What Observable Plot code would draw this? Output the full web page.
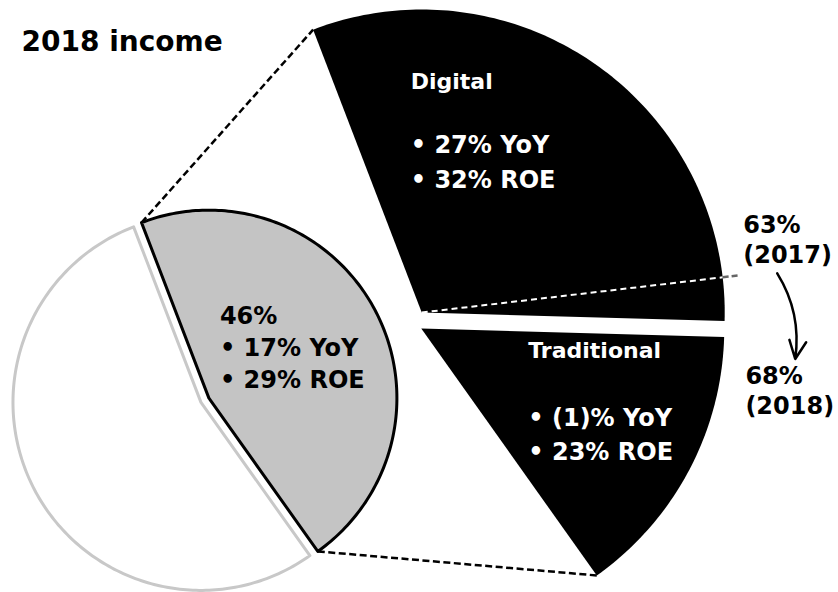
<!DOCTYPE html>
<html>
<head>
<meta charset="utf-8">
<script src="https://cdn.jsdelivr.net/npm/d3@7"></script>
<script src="https://cdn.jsdelivr.net/npm/@observablehq/plot@0.6"></script>
<style>
  html, body { margin: 0; padding: 0; background: #fff; }
  #chart { width: 838px; height: 592px; }
</style>
</head>
<body>
<div id="chart"></div>
<script>
// ---------------- data ----------------
const titleText = "2018 income";
const pieCategories = ["Segment", "Rest of group"];
const pieShares = [46, 54];
const segmentYoY = "17%";
const segmentROE = "29%";
const splitCategories = ["Digital", "Traditional"];
const splitShares = [68, 32];
const splitYoY = ["27%", "(1)%"];
const splitROE = ["32%", "23%"];
const digitalYears = ["2017", "2018"];
const digitalShares = [63, 68];

// ---------------- layout ----------------
const W = 838, H = 592;
const pieCenter = {x: 204, y: 400}, pieR = 188;
const zoomCenter = {x: 421, y: 320}, zoomR = 303;
const rotation = -21;            // degrees, start of highlighted slice
const font = "DejaVu Sans";

const rad = d => d * Math.PI / 180;
const polar = (c, a, r) => ({x: c.x + r * Math.sin(a), y: c.y - r * Math.cos(a)});
function wedge(c, r, a0, a1, name) {
  const pts = [{x: c.x, y: c.y, name}];
  const n = Math.max(2, Math.ceil(Math.abs(a1 - a0) * 180 / Math.PI));
  for (let i = 0; i <= n; i++) pts.push({...polar(c, a0 + (a1 - a0) * i / n, r), name});
  pts.push({x: c.x, y: c.y, name});
  return pts;
}

// left pie
const pieArcs = d3.pie().sort(null).startAngle(rad(rotation)).endAngle(rad(rotation + 360))(pieShares);
const explode = [5, 4];
const pieVertices = pieArcs.map((a, i) => polar(pieCenter, (a.startAngle + a.endAngle) / 2, explode[i]));
const segWedge = wedge(pieVertices[0], pieR, pieArcs[0].startAngle, pieArcs[0].endAngle, pieCategories[0]);
const restWedge = wedge(pieVertices[1], pieR, pieArcs[1].startAngle, pieArcs[1].endAngle, pieCategories[1]);

// right (zoomed) sector
const zoomArcs = d3.pie().sort(null).startAngle(pieArcs[0].startAngle).endAngle(pieArcs[0].endAngle)(splitShares);
const boundary = zoomArcs[0].endAngle;
const nrm = {x: Math.cos(boundary), y: Math.sin(boundary)};
const gapHalf = 8;
const zoomVertices = [
  {x: zoomCenter.x - gapHalf * nrm.x, y: zoomCenter.y - gapHalf * nrm.y},
  {x: zoomCenter.x + gapHalf * nrm.x, y: zoomCenter.y + gapHalf * nrm.y}
];
const digWedge = wedge(zoomVertices[0], zoomR, zoomArcs[0].startAngle, zoomArcs[0].endAngle, splitCategories[0]);
const tradWedge = wedge(zoomVertices[1], zoomR, zoomArcs[1].startAngle, zoomArcs[1].endAngle, splitCategories[1]);

// connectors from highlighted slice to the zoomed sector
const c1a = polar(pieVertices[0], pieArcs[0].startAngle, pieR);
const c1b = polar(zoomVertices[0], zoomArcs[0].startAngle, zoomR);
const c2a = polar(pieVertices[0], pieArcs[0].endAngle, pieR);
const c2b = polar(zoomVertices[1], zoomArcs[1].endAngle, zoomR);
const connectors = [
  {x1: c1a.x, y1: c1a.y, x2: c1b.x, y2: c1b.y},
  {x1: c2a.x, y1: c2a.y, x2: c2b.x, y2: c2b.y}
];

// previous-year digital share line
const shareAngle = d3.scaleLinear().domain([0, 100]).range([zoomArcs[0].startAngle, zoomArcs[1].endAngle]);
const a17 = shareAngle(digitalShares[0]);
const rim17 = polar(zoomVertices[0], a17, zoomR);
const end17 = polar(zoomVertices[0], a17, zoomR * 1.055);
const innerLine = [{x1: zoomVertices[0].x, y1: zoomVertices[0].y, x2: rim17.x, y2: rim17.y}];
const outerLine = [{x1: rim17.x, y1: rim17.y, x2: end17.x, y2: end17.y}];

// label anchors derived from geometry
const gapRim = polar(zoomCenter, boundary, zoomR);
const lab17 = {x: end17.x + 4, y: end17.y - 12};
const lab18 = {x: gapRim.x + 21, y: gapRim.y + 34};
const arrowData = [{x1: lab17.x + 34, y1: lab17.y + 10, x2: lab17.x + 52, y2: lab18.y - 4}];

const segLab = {x: pieVertices[0].x + 11, y: pieVertices[0].y - 10};
const digLab = {x: zoomVertices[0].x - 11, y: zoomVertices[0].y - 224};
const tradLab = {x: zoomVertices[1].x + 107, y: zoomVertices[1].y + 30};

const textBase = {x: "x", y: "y", text: "t", textAnchor: "start", fontWeight: "bold", fontFamily: font};

const chart = Plot.plot({
  width: W, height: H, margin: 0,
  style: {fontFamily: font, background: "white", overflow: "visible"},
  x: {domain: [0, W], range: [0, W], axis: null},
  y: {domain: [0, H], range: [0, H], axis: null},
  marks: [
    Plot.line(restWedge, {x: "x", y: "y", fill: "white", stroke: "#c8c8c8", strokeWidth: 3, curve: "linear"}),
    Plot.line(segWedge, {x: "x", y: "y", fill: "#c4c4c4", stroke: "black", strokeWidth: 3, curve: "linear"}),
    Plot.link(connectors, {x1: "x1", y1: "y1", x2: "x2", y2: "y2", stroke: "black", strokeWidth: 2.5, strokeDasharray: "7,3.5"}),
    Plot.line(digWedge, {x: "x", y: "y", fill: "black", stroke: "none", curve: "linear"}),
    Plot.line(tradWedge, {x: "x", y: "y", fill: "black", stroke: "none", curve: "linear"}),
    Plot.link(innerLine, {x1: "x1", y1: "y1", x2: "x2", y2: "y2", stroke: "white", strokeWidth: 2, strokeDasharray: "6,4"}),
    Plot.link(outerLine, {x1: "x1", y1: "y1", x2: "x2", y2: "y2", stroke: "#666", strokeWidth: 2.5, strokeDasharray: "6,3"}),
    // title
    Plot.text([titleText], {frameAnchor: "top-left", text: d => d, dx: 21, dy: 50, lineAnchor: "bottom", textAnchor: "start", fontSize: 28, fontWeight: "bold", fill: "black"}),
    // highlighted slice label
    Plot.text([{...segLab, t: `${pieShares[0]}%\n• ${segmentYoY} YoY\n• ${segmentROE} ROE`}],
      {...textBase, lineAnchor: "bottom", fontSize: 24, lineHeight: 1.333, fill: "black"}),
    // Digital
    Plot.text([{...digLab, t: splitCategories[0]}], {...textBase, lineAnchor: "bottom", fontSize: 22, fill: "white"}),
    Plot.text([{x: digLab.x, y: digLab.y + 99, t: `• ${splitYoY[0]} YoY\n• ${splitROE[0]} ROE`}],
      {...textBase, lineAnchor: "bottom", fontSize: 24, lineHeight: 1.458, fill: "white"}),
    // Traditional
    Plot.text([{...tradLab, t: splitCategories[1]}], {...textBase, lineAnchor: "bottom", fontSize: 22, fill: "white"}),
    Plot.text([{x: tradLab.x, y: tradLab.y + 102, t: `• ${splitYoY[1]} YoY\n• ${splitROE[1]} ROE`}],
      {...textBase, lineAnchor: "bottom", fontSize: 24, lineHeight: 1.458, fill: "white"}),
    // share change labels
    Plot.text([{...lab17, t: `${digitalShares[0]}%\n(${digitalYears[0]})`}],
      {...textBase, lineAnchor: "bottom", fontSize: 24, lineHeight: 1.25, fill: "black"}),
    Plot.text([{...lab18, t: `${digitalShares[1]}%\n(${digitalYears[1]})`}],
      {...textBase, lineAnchor: "top", fontSize: 24, lineHeight: 1.25, fill: "black"}),
    Plot.arrow(arrowData, {x1: "x1", y1: "y1", x2: "x2", y2: "y2", bend: 20, stroke: "black", strokeWidth: 2.5, headLength: 12, headAngle: 50})
  ]
});
document.getElementById("chart").append(chart);
</script>
</body>
</html>
